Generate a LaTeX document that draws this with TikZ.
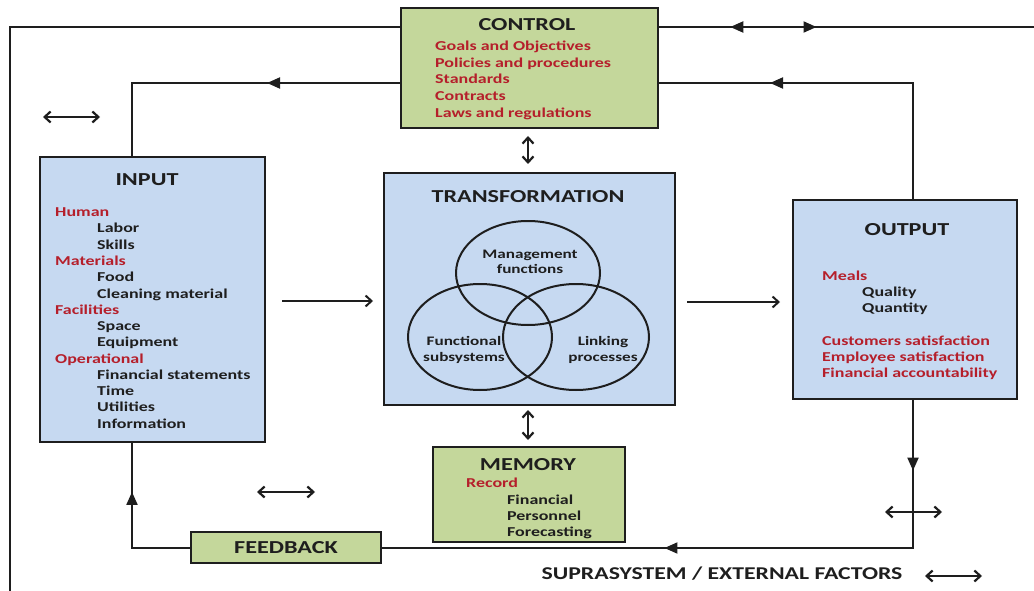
\documentclass[tikz,border=0pt]{standalone}
\usepackage{fontspec}
\setmainfont{Carlito}[FakeStretch=1.32]
\usetikzlibrary{arrows.meta,decorations.markings}
\definecolor{boxgreen}{HTML}{C4D79B}
\definecolor{boxblue}{HTML}{C6D9F1}
\definecolor{itemred}{HTML}{B51F2B}
\definecolor{ink}{HTML}{1E1E1E}
\tikzset{
  box/.style={draw=ink, line width=2pt, inner sep=0pt},
  gbox/.style={box, fill=boxgreen},
  bbox/.style={box, fill=boxblue},
  conn/.style={draw=ink, line width=2pt},
  fwd/.style={postaction={decorate, decoration={markings, mark=at position #1 with {\arrow{Triangle[length=13pt,width=11pt]}}}}},
  bwd/.style={postaction={decorate, decoration={markings, mark=at position #1 with {\arrowreversed{Triangle[length=13pt,width=11pt]}}}}},
  dbl/.style={draw=ink, line width=2.2pt, {Straight Barb[length=6pt,width=11pt]}-{Straight Barb[length=6pt,width=11pt]}},
  sgl/.style={draw=ink, line width=2pt, -{Straight Barb[length=6pt,width=11pt]}},
  title/.style={font=\bfseries\fontsize{18.3}{20}\selectfont, text=ink, inner sep=0pt},
  itm/.style={font=\bfseries\fontsize{13.6}{15}\selectfont, text=ink, inner sep=0pt, anchor=west, text height=9pt, text depth=2.5pt},
  ritm/.style={itm, text=itemred},
  venn/.style={font=\bfseries\fontsize{13}{15.5}\selectfont, text=ink, inner sep=0pt, align=center},
}
\begin{document}
\begin{tikzpicture}[x=1pt,y=-1pt]
\useasboundingbox (0,0) rectangle (1034,591);
% boxes
\node[gbox, minimum width=257pt, minimum height=120pt] (control) at (529.5,68) {};
\node[bbox, minimum width=225pt, minimum height=285pt] (input) at (152.5,299.5) {};
\node[bbox, minimum width=291pt, minimum height=232pt] (trans) at (529.5,289) {};
\node[bbox, minimum width=224pt, minimum height=199pt] (output) at (905,299.5) {};
\node[gbox, minimum width=192pt, minimum height=95pt] (memory) at (529,494.5) {};
\node[gbox, minimum width=190pt, minimum height=31pt, title] (feedback) at (286,547.5) {FEEDBACK};
% control text
\node[title] (tcontrol) at (527,25) {CONTROL};
\node[ritm] (c1t) at (435,47) {Goals and Objectives};
\node[ritm] (c2t) at (435,64) {Policies and procedures};
\node[ritm] (c3t) at (435,80) {Standards};
\node[ritm] (c4t) at (435,97) {Contracts};
\node[ritm] (c5t) at (435,114) {Laws and regulations};
% input text
\node[title] (tinput) at (147,180) {INPUT};
\node[ritm] (i1) at (55,213) {Human};
\node[itm] (i2) at (97,229) {Labor};
\node[itm] (i3) at (97,246) {Skills};
\node[ritm] (i4) at (55,262) {Materials};
\node[itm] (i5) at (97,278) {Food};
\node[itm] (i6) at (97,295) {Cleaning material};
\node[ritm] (i7) at (55,311) {Facilities};
\node[itm] (i8) at (97,327) {Space};
\node[itm] (i9) at (97,343) {Equipment};
\node[ritm] (i10) at (55,360) {Operational};
\node[itm] (i11) at (97,376) {Financial statements};
\node[itm] (i12) at (97,392) {Time};
\node[itm] (i13) at (97,408) {Utilities};
\node[itm] (i14) at (97,425) {Information};
% transformation
\node[title] (ttrans) at (528,197) {TRANSFORMATION};
\draw[ink, line width=2pt] (528,273) ellipse [x radius=72, y radius=52];
\draw[ink, line width=2pt] (480,337) ellipse [x radius=72, y radius=53];
\draw[ink, line width=2pt] (576,337) ellipse [x radius=73, y radius=53];
\node[venn] (v1) at (530,262) {Management\\functions};
\node[venn] (v2) at (464,350) {Functional\\subsystems};
\node[venn] (v3) at (603,350) {Linking\\processes};
% output text
\node[title] (toutput) at (907,230) {OUTPUT};
\node[ritm] (o1) at (822,277) {Meals};
\node[itm] (o2) at (862,293) {Quality};
\node[itm] (o3) at (862,309) {Quantity};
\node[ritm] (o4) at (822,342) {Customers satisfaction};
\node[ritm] (o5) at (822,358) {Employee satisfaction};
\node[ritm] (o6) at (822,374) {Financial accountability};
% memory text
\node[title] (tmemory) at (528,465) {MEMORY};
\node[ritm] (m1) at (466,484) {Record};
\node[itm] (m2) at (507,501) {Financial};
\node[itm] (m3) at (507,517) {Personnel};
\node[itm] (m4) at (507,533) {Forecasting};
% bottom label
\node[title, font=\bfseries\fontsize{18}{20}\selectfont] (supra) at (722,574) {SUPRASYSTEM / EXTERNAL FACTORS};
% coordinates
\coordinate (tl) at (10,27);
\coordinate (bl) at (10,591);
\coordinate (tr) at (1034,27);
\coordinate (k1) at (132,83);
\coordinate (k2) at (913,83);
\coordinate (k3) at (913,548);
\coordinate (k4) at (132,548);
% connectors
\draw[conn] (control.west |- tl) -- (tl) -- (bl);
\draw[conn, bwd=0.19, fwd=0.42] (control.east |- tr) -- (tr);
\draw[conn, fwd=0.39] (control.west |- k1) -- (k1) -- (k1 |- input.north);
\draw[conn, fwd=0.70] (k2 |- output.north) -- (k2) -- (control.east |- k2);
\draw[conn, fwd=0.104, fwd=0.584] (k3 |- output.south) -- (k3) -- (feedback.east |- k3);
\draw[conn, fwd=0.70] (feedback.west |- k4) -- (k4) -- (k4 |- input.south);
% free arrows
\coordinate (a1s) at (282,301); \coordinate (a1e) at (373,301);
\coordinate (a2s) at (687,302); \coordinate (a2e) at (780,302);
\draw[sgl] (a1s) -- (a1e);
\draw[sgl] (a2s) -- (a2e);
\coordinate (d1s) at (43,117); \coordinate (d1e) at (100,117);
\coordinate (d2s) at (257,492); \coordinate (d2e) at (315,492);
\coordinate (d3s) at (885,512); \coordinate (d3e) at (942,512);
\coordinate (d4s) at (925,576); \coordinate (d4e) at (982,576);
\coordinate (d5s) at (528,136); \coordinate (d5e) at (528,164);
\coordinate (d6s) at (528,410); \coordinate (d6e) at (528,440);
\draw[dbl] (d1s) -- (d1e);
\draw[dbl] (d2s) -- (d2e);
\draw[dbl] (d3s) -- (d3e);
\draw[dbl] (d4s) -- (d4e);
\draw[dbl] (d5s) -- (d5e);
\draw[dbl] (d6s) -- (d6e);
\end{tikzpicture}
\end{document}
